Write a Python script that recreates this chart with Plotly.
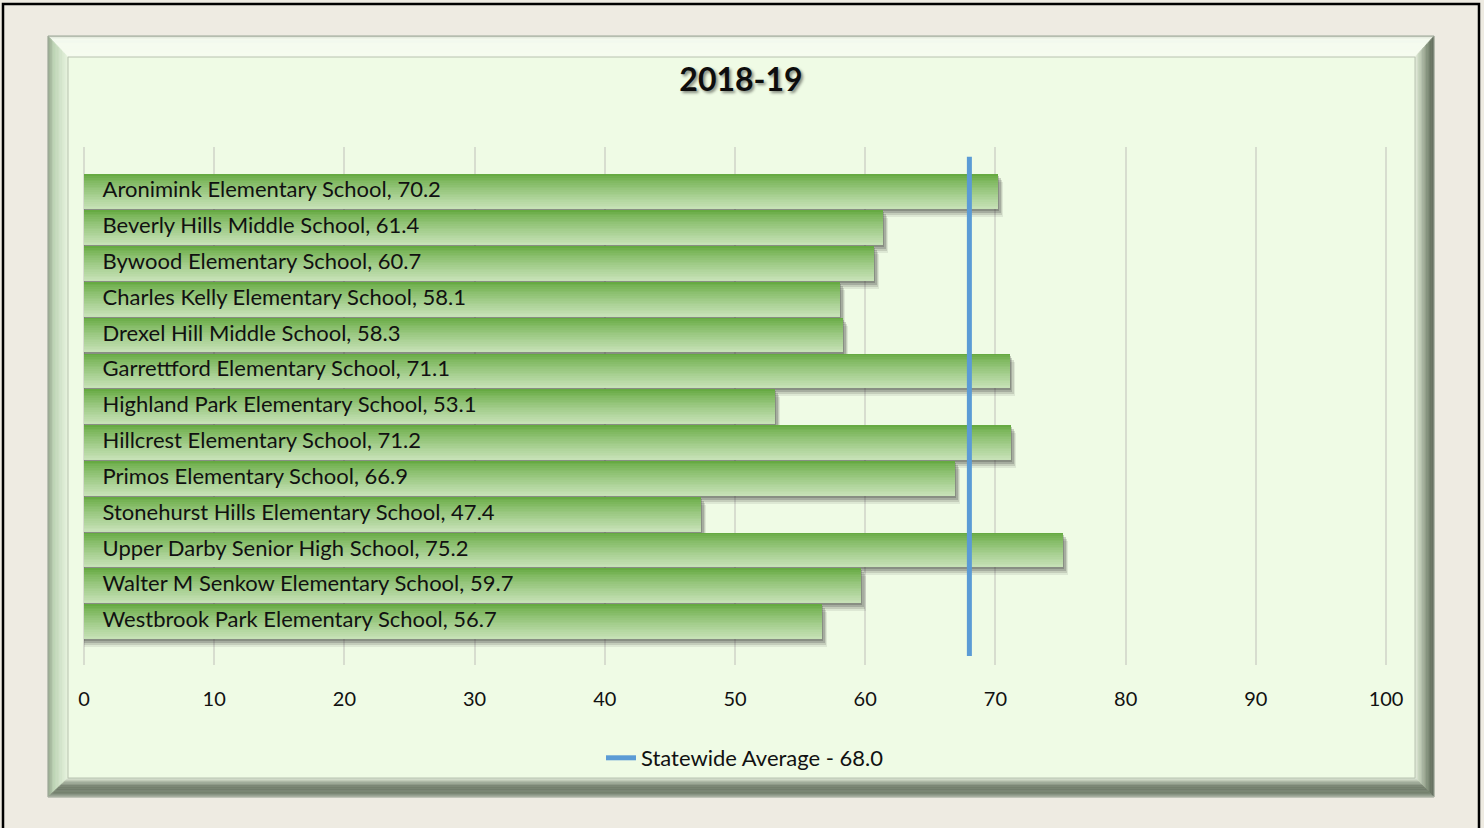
import plotly.graph_objects as go

# ---------------- data ----------------
schools = [
    "Aronimink Elementary School",
    "Beverly Hills Middle School",
    "Bywood Elementary School",
    "Charles Kelly Elementary School",
    "Drexel Hill Middle School",
    "Garrettford Elementary School",
    "Highland Park Elementary School",
    "Hillcrest Elementary School",
    "Primos Elementary School",
    "Stonehurst Hills Elementary School",
    "Upper Darby Senior High School",
    "Walter M Senkow Elementary School",
    "Westbrook Park Elementary School",
]
scores = [70.2, 61.4, 60.7, 58.1, 58.3, 71.1, 53.1, 71.2, 66.9, 47.4, 75.2, 59.7, 56.7]
statewide_avg = 68.0
title_text = "2018-19"
x_ticks = [0, 10, 20, 30, 40, 50, 60, 70, 80, 90, 100]

# ---------------- geometry helpers (pixels -> paper) ----------------
W, H = 1484, 828
PL, PR, PT, PB = 82, 1388, 147, 665
XR = [-0.15, 100.15]
def px(x):
    return (x - PL) / (PR - PL)
def py(y):
    return (PB - y) / (PB - PT)

n = len(schools)
pos = list(range(n))
cat_px = (PB - PT) / 14.46
unit_px = (PR - PL) / (XR[1] - XR[0])
BW = 0.97
FONT = "Lato"

fig = go.Figure()

# shadows
for j, (dpx, rpx, a) in enumerate([(2, 1, 0.24), (4, 2.5, 0.2), (6, 4, 0.14), (8, 5, 0.09)]):
    fig.add_trace(go.Bar(
        orientation="h", y=pos, x=[v + rpx / unit_px for v in scores],
        offset=-BW / 2 + dpx / cat_px, width=BW,
        marker=dict(color=f"rgba(45,45,45,{a})", line=dict(width=0)),
        hoverinfo="skip", showlegend=False))

# gradient bars (stacked strips, top dark -> bottom light)
top_c = (102, 170, 66)
bot_c = (198, 225, 182)
N = 20
for k in range(N):
    t = (k / (N - 1)) ** 0.8
    c = tuple(int(round(top_c[i] + (bot_c[i] - top_c[i]) * t)) for i in range(3))
    fig.add_trace(go.Bar(
        orientation="h", y=pos, x=scores,
        offset=-BW / 2 + BW * k / N, width=BW * (1 - k / N),
        marker=dict(color=f"rgb{c}", line=dict(width=0)),
        hoverinfo="skip", showlegend=False))

# labels inside bars
fig.add_trace(go.Scatter(
    x=[1.43] * n, y=pos, mode="text",
    text=[f"{s}, {v}" for s, v in zip(schools, scores)],
    textposition="middle right",
    textfont=dict(family=FONT, size=22, color="#111111"),
    hoverinfo="skip", showlegend=False))

# statewide average line
fig.add_trace(go.Scatter(
    x=[statewide_avg, statewide_avg], y=[-0.975, n - 1 + 0.96],
    mode="lines", line=dict(color="#5B9BD5", width=5),
    name=f"Statewide Average - {statewide_avg:.1f}"))

# ---------------- frame shapes ----------------
shapes = []
O = (48, 36, 1434, 797)
I = (68, 57, 1415, 778)

def R(t):
    return tuple(O[i] + (I[i] - O[i]) * t for i in range(4))

def lerp(c1, c2, t):
    return tuple(int(round(c1[i] + (c2[i] - c1[i]) * t)) for i in range(3))

def grad(stops, t):
    for (t0, c0), (t1, c1) in zip(stops, stops[1:]):
        if t <= t1:
            return lerp(c0, c1, (t - t0) / (t1 - t0) if t1 > t0 else 0)
    return stops[-1][1]

top_stops = [(0, (176, 184, 168)), (0.12, (244, 250, 238)), (1, (246, 252, 240))]
left_stops = [(0, (140, 158, 132)), (0.3, (190, 212, 182)), (1, (230, 244, 222))]
right_stops = [(0, (84, 96, 80)), (0.35, (126, 140, 118)), (0.75, (192, 204, 182)), (1, (226, 236, 218))]
bot_stops = [(0, (176, 184, 170)), (0.2, (120, 132, 114)), (0.55, (110, 122, 104)), (0.8, (168, 178, 160)), (1, (222, 232, 214))]

def P(x, y):
    return f"{px(x):.6f},{py(y):.6f}"

NS = 14
for k in range(NS):
    t0, t1 = k / NS, (k + 1) / NS
    a, b = R(t0), R(t1)
    tm = (t0 + t1) / 2
    sides = [
        (top_stops, [(a[0], a[1]), (a[2], a[1]), (b[2], b[1]), (b[0], b[1])]),
        (left_stops, [(a[0], a[1]), (b[0], b[1]), (b[0], b[3]), (a[0], a[3])]),
        (right_stops, [(a[2], a[1]), (a[2], a[3]), (b[2], b[3]), (b[2], b[1])]),
        (bot_stops, [(a[0], a[3]), (a[2], a[3]), (b[2], b[3]), (b[0], b[3])]),
    ]
    for stops, pts in sides:
        c = grad(stops, tm)
        path = "M " + " L ".join(P(x, y) for x, y in pts) + " Z"
        shapes.append(dict(type="path", xref="paper", yref="paper", path=path,
                           fillcolor=f"rgb{c}", line=dict(width=0.6, color=f"rgb{c}"),
                           layer="below"))

# panel fill
shapes.append(dict(type="rect", xref="paper", yref="paper",
                   x0=px(I[0]), x1=px(I[2]), y0=py(I[3]), y1=py(I[1]),
                   fillcolor="#EFFBE5", line=dict(width=1, color="#B8C2B0"), layer="below"))
# outer thin edge of frame
shapes.append(dict(type="rect", xref="paper", yref="paper",
                   x0=px(O[0]), x1=px(O[2]), y0=py(O[3]), y1=py(O[1]),
                   fillcolor="rgba(0,0,0,0)", line=dict(width=1, color="#A8B0A2"), layer="below"))
# black outer border
shapes.append(dict(type="rect", xref="paper", yref="paper",
                   x0=px(3), x1=px(1479), y0=py(835), y1=py(4),
                   fillcolor="rgba(0,0,0,0)", line=dict(width=2.5, color="#000000"), layer="above"))

fig.update_layout(
    width=W, height=H,
    margin=dict(l=PL, r=W - PR, t=PT, b=H - PB, pad=0),
    paper_bgcolor="#EEEBE2",
    plot_bgcolor="rgba(0,0,0,0)",
    barmode="overlay",
    bargap=0,
    shapes=shapes,
    title=dict(text=f"<b>{title_text}</b>", x=741 / W, y=1 - 80 / H,
               xanchor="center", yanchor="middle", xref="container",
               yref="container",
               font=dict(family=FONT, size=32, color="#0D0D0D",
                         shadow="2px 2px 3px rgba(0,0,0,0.45)")),
    xaxis=dict(range=XR, tickvals=x_ticks, showgrid=True,
               gridcolor="#D7DDCF", gridwidth=1.5, zeroline=False,
               showline=False, ticks="", ticklabelstandoff=20,
               tickfont=dict(family=FONT, size=20, color="#111111"),
               fixedrange=True),
    yaxis=dict(range=[n - 1 + 1.21, -1.25], showticklabels=False, showgrid=False,
               zeroline=False, showline=False, fixedrange=True),
    showlegend=True,
    legend=dict(orientation="h", xref="container", yref="container",
                x=745 / W, y=1 - 758 / H, xanchor="center", yanchor="middle",
                bgcolor="rgba(0,0,0,0)",
                font=dict(family=FONT, size=22, color="#111111")),
)

fig.write_html("out.html")
